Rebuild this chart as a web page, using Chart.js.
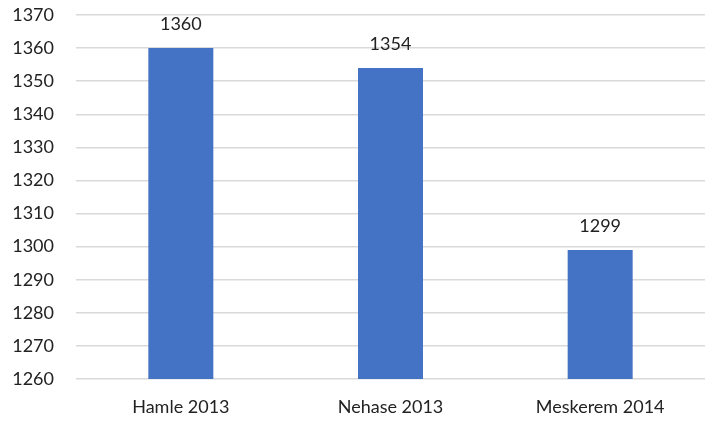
<!DOCTYPE html>
<html>
<head>
<meta charset="utf-8">
<script src="https://cdn.jsdelivr.net/npm/chart.js@4.4.0/dist/chart.umd.min.js"></script>
<style>
  html, body { margin: 0; padding: 0; background: #fff; }
  #wrap { width: 712px; height: 421px; }
</style>
</head>
<body>
<div id="wrap"><canvas id="mycanvas" width="712" height="421"></canvas></div>
<script>
var categories = ['Hamle 2013', 'Nehase 2013', 'Meskerem 2014'];
var values = [1360, 1354, 1299];
var yMin = 1260, yMax = 1370, yStep = 10;

var fontFam = 'Lato, "Open Sans", sans-serif';
var fontSize = 18;

// labels above the bars
var barLabels = {
	id: 'barLabels',
	afterDatasetsDraw: function(chart) {
		var ctx = chart.ctx;
		var meta = chart.getDatasetMeta(0);
		ctx.save();
		ctx.font = fontSize + 'px ' + fontFam;
		ctx.fillStyle = '#222';
		ctx.textAlign = 'center';
		ctx.textBaseline = 'middle';
		meta.data.forEach(function(bar, i) {
			ctx.fillText(values[i], bar.x, bar.y - 24);
		});
		ctx.restore();
	}
};

var ctx = document.getElementById('mycanvas');
var barGraph = new Chart(ctx, {
	type: 'bar',
	data: {
		labels: categories,
		datasets: [{
			data: values,
			backgroundColor: '#4472C4',
			borderWidth: 0,
			barPercentage: 0.62,
			categoryPercentage: 0.5
		}]
	},
	options: {
		responsive: false,
		animation: false,
		layout: { padding: { top: 15, right: 7, bottom: 0, left: 0 } },
		plugins: {
			legend: { display: false },
			tooltip: { enabled: false }
		},
		scales: {
			x: {
				grid: { display: false, drawTicks: false },
				border: { display: false },
				ticks: { color: '#222', font: { family: fontFam, size: fontSize }, padding: 17, maxRotation: 0 },
				afterFit: function(scale) { scale.height = 42; }
			},
			y: {
				min: yMin,
				max: yMax,
				grid: { color: '#d9d9d9', lineWidth: 1.5, drawTicks: false },
				border: { display: false },
				ticks: {
					stepSize: yStep, color: '#222', font: { family: fontFam, size: fontSize }, padding: 22,
					callback: function(v) { return String(v); }
				},
				afterFit: function(scale) {
					scale.width = 76;
					scale.paddingTop = 0;
					scale.paddingBottom = 0;
				}
			}
		}
	},
	plugins: [barLabels]
});
</script>
</body>
</html>
